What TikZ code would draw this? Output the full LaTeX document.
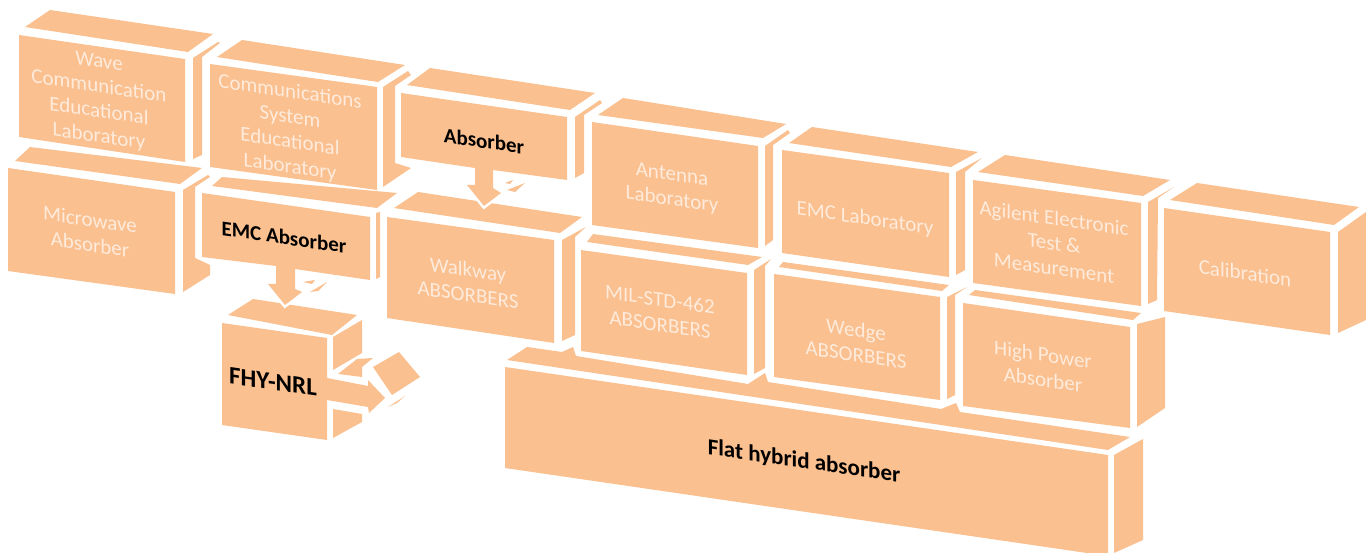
\documentclass[tikz,border=0pt]{standalone}
\usepackage{fontspec}
\setmainfont{Carlito}
\definecolor{bk}{HTML}{FAC08F}
\definecolor{lt}{HTML}{FEEBDC}
\tikzset{
  bkf/.style={fill=bk},
  notch/.style={fill=bk,draw=white,line width=5pt,line join=miter},
  lab/.style={yslant=-0.145,transform shape,align=center,inner sep=0pt,font=\fontsize{21}{25}\selectfont},
  wl/.style={lab,text=lt},
  bl/.style={lab,text=black,font=\fontsize{21}{25}\selectfont\bfseries}
}
\begin{document}
\begin{tikzpicture}[x=1pt,y=-1pt]
\path[use as bounding box,fill=white] (0,0) rectangle (1366,553);
% Wave
\fill[bkf] (25,27)--(50,10)--(213,34)--(188,52)--cycle;
\fill[bkf] (19,35)--(185,59)--(185,162)--(19,137)--cycle;
\fill[bkf] (193,58)--(218,42)--(220,43)--(202,57)--(202,155)--(193,159)--cycle;
% Comm
\fill[bkf] (217,57)--(242,40)--(405,65)--(378,82)--cycle;
\fill[bkf] (210,64)--(377,87)--(377,190)--(210,167)--cycle;
\fill[bkf] (383,87)--(408,71)--(411,75)--(395,86)--(395,163)--(411,168)--(383,187)--cycle;
% Microwave
\fill[bkf] (15,161)--(30,147)--(202,168)--(180,184)--cycle;
\fill[bkf] (8,168)--(175,192)--(175,294)--(8,271)--cycle;
\fill[bkf] (183,190)--(208,175)--(210,177)--(195,187)--(195,258)--(210,265)--(210,275)--(183,292)--cycle;
% FHY
\fill[bkf] (228,315)--(253,299)--(357,315)--(332,335)--cycle;
\fill[bkf] (333,337)--(362,320)--(362,353)--(333,370)--cycle;
\fill[bkf] (333,409)--(362,414)--(362,422)--(333,438)--cycle;
\fill[bkf] (338,374)--(357,359)--(373,358)--(362,367)--(362,377)--cycle;
\fill[bkf] (373,367)--(399,352)--(420,377)--(392,395)--cycle;
\fill[bkf] (388,407)--(405,396)--(397,403)--cycle;
\fill[bkf] (222,323)--(327,338)--(327,378)--(368,386)--(368,380)--(385,398)--(369,413)--(368,407)--(327,400)--(327,440)--(222,425)--cycle;
% EMC Absorber
\fill[bkf] (212,186)--(222,177)--(397,193)--(377,208)--cycle;
\fill[bkf] (376,213)--(380,212)--(380,277)--(376,279)--cycle;
\draw[notch] (268,284)--(285,305)--(302,292)--cycle;
\fill[bkf] (202,193)--(370,217)--(370,280)--(295,269)--(295,289)--(302,292)--(285,305)--(268,284)--(276,284)--(276,266)--(202,257)--cycle;
\fill[bkf] (303,282)--(315,280)--(312,284)--cycle;
\fill[bkf] (310,292)--(327,282)--(318,291)--cycle;
% Walkway
\fill[bkf] (394,208)--(418,192)--(582,217)--(560,233)--cycle;
\fill[bkf] (387,217)--(554,240)--(554,343)--(387,318)--cycle;
\fill[bkf] (562,240)--(586,227)--(575,237)--(575,335)--(562,341)--cycle;
% Absorber
\fill[bkf] (407,85)--(430,68)--(595,93)--(570,110)--cycle;
\fill[bkf] (575,117)--(600,100)--(602,103)--(584,115)--(584,173)--(575,178)--cycle;
\draw[notch] (467,185)--(484,206)--(501,193)--cycle;
\fill[bkf] (401,93)--(567,117)--(567,180)--(493,170)--(493,188)--(501,193)--(484,206)--(467,185)--(475,185)--(475,168)--(401,157)--cycle;
\fill[bkf] (505,183)--(513,180)--(510,184)--cycle;
\fill[bkf] (507,190)--(525,183)--(515,192)--cycle;
% Antenna
\fill[bkf] (598,115)--(623,98)--(786,124)--(763,138)--cycle;
\fill[bkf] (592,122)--(758,146)--(758,248)--(592,225)--cycle;
\fill[bkf] (765,146)--(788,130)--(790,133)--(773,145)--(773,240)--(765,246)--cycle;
% MIL
\fill[bkf] (587,242)--(593,234)--(762,257)--(748,265)--cycle;
\fill[bkf] (581,250)--(747,273)--(747,375)--(581,351)--cycle;
\fill[bkf] (754,270)--(771,259)--(765,266)--(765,368)--(754,374)--cycle;
% EMC Lab
\fill[bkf] (789,143)--(812,127)--(978,152)--(951,167)--cycle;
\fill[bkf] (782,150)--(949,173)--(949,277)--(782,253)--cycle;
\fill[bkf] (956,172)--(982,158)--(965,172)--(965,270)--(956,275)--cycle;
% Agilent
\fill[bkf] (978,172)--(1005,155)--(1170,180)--(1143,196)--cycle;
\fill[bkf] (973,180)--(1141,203)--(1141,306)--(973,283)--cycle;
\fill[bkf] (1148,202)--(1174,187)--(1158,198)--(1157,300)--(1148,304)--cycle;
% Wedge
\fill[bkf] (779,267)--(783,262)--(949,285)--(942,291)--cycle;
\fill[bkf] (774,274)--(940,297)--(940,400)--(774,377)--cycle;
\fill[bkf] (947,297)--(967,287)--(955,295)--(955,395)--(947,399)--cycle;
% High Power
\fill[bkf] (969,295)--(975,290)--(1141,313)--(1133,320)--cycle;
\fill[bkf] (963,303)--(1130,327)--(1130,428)--(963,406)--cycle;
\fill[bkf] (1137,324)--(1165,317)--(1165,408)--(1137,427)--cycle;
% Calibration
\fill[bkf] (1170,200)--(1197,183)--(1359,207)--(1334,225)--cycle;
\fill[bkf] (1164,208)--(1330,232)--(1330,335)--(1164,311)--cycle;
\fill[bkf] (1338,232)--(1366,212)--(1366,320)--(1338,333)--cycle;
% Flat
\fill[bkf] (507,360)--(527,347)--(562,352)--(573,347)--(576,356)--(748,384)--(765,373)--(768,382)--(941,409)--(956,403)--(960,412)--(1130,437)--(1108,450)--cycle;
\fill[bkf] (505,367)--(1108,455)--(1108,553)--(1087,553)--(505,468)--cycle;
\fill[bkf] (1114,455)--(1143,439)--(1143,540)--(1114,553)--cycle;
% Labels
\node[wl] (wave) at (99,100) {Wave\\Communication\\Educational\\Laboratory};
\node[wl] (comm) at (290,130) {Communications\\System\\Educational\\Laboratory};
\node[wl] (micro) at (90,232) {Microwave\\Absorber};
\node[bl] (emcabs) at (284,237) {EMC Absorber};
\node[bl] (abs) at (484,141) {Absorber};
\node[wl] (walk) at (468,282) {Walkway\\ABSORBERS};
\node[wl] (ant) at (672,188) {Antenna\\Laboratory};
\node[wl] (mil) at (660,312) {MIL-STD-462\\ABSORBERS};
\node[wl] (emclab) at (865,219) {EMC Laboratory};
\node[wl] (agi) at (1054,243) {Agilent Electronic\\Test \&\\Measurement};
\node[wl] (cal) at (1245,273) {Calibration};
\node[wl] (wedge) at (856,342) {Wedge\\ABSORBERS};
\node[wl] (high) at (1043,367) {High Power\\Absorber};
\node[bl,font=\fontsize{23}{25}\selectfont\bfseries] (flat) at (804,462) {Flat hybrid absorber};
\node[bl,font=\fontsize{25}{25}\selectfont\bfseries] (fhy) at (273,382) {FHY-NRL};
\end{tikzpicture}
\end{document}
